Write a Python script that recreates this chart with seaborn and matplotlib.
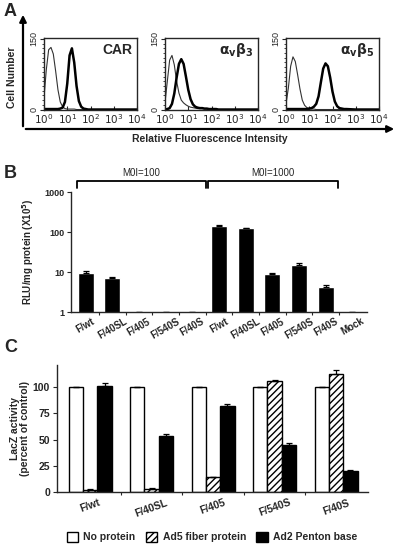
import numpy as np
import pandas as pd
import seaborn as sns
import matplotlib.pyplot as plt
import matplotlib.transforms as mtransforms
from matplotlib.patches import Patch, FancyArrowPatch
from matplotlib.ticker import MultipleLocator, FixedLocator, NullFormatter, LogLocator

sns.set_style("ticks")
plt.rcParams['font.family'] = ['Liberation Sans', 'DejaVu Sans']
plt.rcParams['hatch.linewidth'] = 1.0
plt.rcParams['mathtext.fontset'] = 'dejavusans'

# ---- panel A: flow cytometry histograms (log10 intensity vs cell number)
log_intensity = [0.0, 0.1, 0.2, 0.3, 0.4, 0.5, 0.6, 0.7, 0.8, 0.9,
                 1.0, 1.1, 1.2, 1.3, 1.4, 1.5, 1.6, 1.7, 1.8, 1.9,
                 2.0, 2.1, 2.2, 2.3, 2.4, 2.5, 2.6, 3.0, 4.0]
car_control = [25, 85, 127, 132, 118, 82, 42, 16, 6, 2,
               1, 1, 1, 1, 0, 0, 0, 0, 0, 0,
               0, 0, 0, 0, 0, 0, 0, 0, 0]
car_stain = [1, 1, 1, 1, 1, 1, 1, 2, 4, 16,
             55, 115, 130, 100, 50, 18, 6, 2, 1, 0,
             0, 0, 0, 0, 0, 0, 0, 0, 0]
avb3_control = [15, 60, 105, 115, 95, 60, 35, 20, 14, 10,
                7, 5, 4, 3, 2, 2, 2, 1, 1, 1,
                1, 1, 0, 0, 0, 0, 0, 0, 0]
avb3_stain = [0, 1, 3, 12, 34, 68, 97, 107, 97, 70,
              42, 22, 11, 6, 4, 3, 3, 2, 2, 1,
              1, 1, 1, 0, 0, 0, 0, 0, 0]
avb5_control = [12, 45, 92, 112, 102, 74, 44, 20, 9, 4,
                2, 1, 1, 0, 0, 0, 0, 0, 0, 0,
                0, 0, 0, 0, 0, 0, 0, 0, 0]
avb5_stain = [1, 1, 1, 1, 1, 1, 1, 1, 1, 1,
              2, 3, 6, 12, 28, 58, 87, 98, 92, 68,
              38, 17, 7, 3, 2, 1, 1, 0, 0]
receptors = ["CAR", r"$\mathbf{\alpha_{v}\beta_{3}}$", r"$\mathbf{\alpha_{v}\beta_{5}}$"]

# ---- panel B: luciferase expression
b_labels = ["F/wt", "F/40SL", "F/405", "F/540S", "F/40S",
            "F/wt", "F/40SL", "F/405", "F/540S", "F/40S", "Mock"]
b_values = [9.5, 7.2, 1.0, 1.02, 1.0, 145, 125, 8.8, 15, 4.2, 1.0]
b_errors = [0.8, 0.5, 0, 0, 0, 5, 4, 0.5, 2.0, 0.4, 0]

# ---- panel C: competition assay
c_viruses = ["F/wt", "F/40SL", "F/405", "F/540S", "F/40S"]
treatments = ["No protein", "Ad5 fiber protein", "Ad2 Penton base"]
no_protein = [100, 100, 100, 100, 100]
no_protein_err = [0.5, 0.5, 0.5, 0.5, 0.5]
ad5_fiber = [2, 3, 14, 106, 112]
ad5_fiber_err = [0.5, 1, 0.5, 1, 4]
ad2_penton = [101, 53, 82, 45, 20]
ad2_penton_err = [3, 2.5, 1.5, 2, 0.5]

W, H = 400, 548
fig = plt.figure(figsize=(W / 100, H / 100), dpi=100)


def px_axes(left, top, right, bottom):
    return fig.add_axes([left / W, 1 - bottom / H, (right - left) / W, (bottom - top) / H])


bold = dict(fontweight="bold")

# ---------------- A
pairs = [(car_control, car_stain), (avb3_control, avb3_stain), (avb5_control, avb5_stain)]
for i, (ctrl, stain) in enumerate(pairs):
    left = 44 + i * 121
    ax = px_axes(left, 38, left + 93, 110)
    xs = np.power(10.0, log_intensity)
    sns.lineplot(x=xs, y=ctrl, ax=ax, color="#333333", lw=0.8)
    sns.lineplot(x=xs, y=stain, ax=ax, color="black", lw=1.8)
    ax.set_xscale("log")
    ax.set_xlim(1, 1e4)
    ax.set_ylim(-1, 152)
    ax.set_yticks([0, 150])
    ax.set_yticklabels(["0", "150"], rotation=90, va="center", fontsize=6.5)
    ax.yaxis.set_minor_locator(MultipleLocator(10))
    ax.tick_params(axis="y", direction="out", length=3, width=0.8, pad=1)
    ax.tick_params(axis="y", which="minor", direction="out", length=1.8, width=0.6)
    ax.set_xticks([1, 10, 100, 1000, 10000])
    ax.set_xticklabels([r"$10^0$", r"$10^1$", r"$10^2$", r"$10^3$", r"$10^4$"], fontsize=7.5)
    ax.xaxis.set_minor_locator(LogLocator(base=10, subs=np.arange(2, 10)))
    ax.xaxis.set_minor_formatter(NullFormatter())
    ax.tick_params(axis="x", direction="in", length=3, width=0.8, pad=1.5)
    ax.tick_params(axis="x", which="minor", direction="in", length=1.8, width=0.6)
    for s in ax.spines.values():
        s.set_linewidth(1.0)
    ax.text(0.95, 0.83, receptors[i], transform=ax.transAxes, ha="right", va="center",
            fontsize=10, **bold)

fig.add_artist(FancyArrowPatch((23 / W, 1 - 129 / H), (23 / W, 1 - 12 / H),
                               transform=fig.transFigure, arrowstyle="-|>",
                               mutation_scale=10, lw=1.6, color="black"))
fig.add_artist(FancyArrowPatch((23 / W, 1 - 129 / H), (397 / W, 1 - 129 / H),
                               transform=fig.transFigure, arrowstyle="-|>",
                               mutation_scale=10, lw=1.6, color="black"))
fig.text(12 / W, 1 - 77 / H, "Cell Number", rotation=90, ha="center", va="center",
         fontsize=7.5, **bold)
fig.text(210 / W, 1 - 139 / H, "Relative Fluorescence Intensity", ha="center", va="center",
         fontsize=7.5, **bold)
fig.text(4 / W, 1 - 12 / H, "A", fontsize=13, va="center", **bold)

# ---------------- B
ax_b = px_axes(71, 192, 367, 312)
ax_b.set_yscale("log")
b_pos = list(range(len(b_values)))
sns.barplot(x=b_pos, y=b_values, color="black", saturation=1, width=0.6,
            errorbar=None, ax=ax_b)
ax_b.errorbar(b_pos, b_values, yerr=[np.zeros(len(b_errors)), b_errors], fmt="none",
              ecolor="black", elinewidth=0.9, capsize=2.2, capthick=0.9)
ax_b.set_ylim(1, 1000)
ax_b.set_xlim(-0.55, 10.55)
ax_b.set_yticks([1, 10, 100, 1000])
ax_b.set_yticklabels(["1", "10", "100", "1000"], fontsize=6.5, **bold)
ax_b.yaxis.set_minor_locator(FixedLocator([]))
ax_b.set_xticks(b_pos)
ax_b.set_xticklabels(b_labels, rotation=30, ha="center", fontsize=7, **bold)
ax_b.xaxis.set_minor_locator(FixedLocator([p + 0.5 for p in b_pos[:-1]]))
ax_b.tick_params(axis="x", which="major", length=0, pad=3)
ax_b.tick_params(axis="x", which="minor", length=2.5, width=0.8)
ax_b.tick_params(axis="y", length=3, width=0.8, pad=2)
sns.despine(ax=ax_b)
for s in ax_b.spines.values():
    s.set_linewidth(1.0)
ax_b.set_xlabel("")
ax_b.set_ylabel("")

trans = mtransforms.blended_transform_factory(ax_b.transData, ax_b.transAxes)
for x0, x1, label in [(-0.34, 4.52, "M0I=100"), (4.6, 9.47, "M0I=1000")]:
    ax_b.plot([x0, x0, x1, x1], [1.03, 1.09, 1.09, 1.03], transform=trans, color="black",
              lw=1.3, clip_on=False)
    ax_b.text((x0 + x1) / 2, 1.115, label, transform=trans, ha="center", va="bottom",
              fontsize=7)
fig.text(28 / W, 1 - 252 / H, r"RLU/mg protein (X10$^{\mathbf{5}}$)", rotation=90,
         ha="center", va="center", fontsize=7, **bold)
fig.text(4 / W, 1 - 173 / H, "B", fontsize=13, va="center", **bold)

# ---------------- C
ax_c = px_axes(57, 365, 368, 492)
c_df = pd.DataFrame({
    "virus": c_viruses * 3,
    "treatment": np.repeat(treatments, len(c_viruses)),
    "activity": no_protein + ad5_fiber + ad2_penton,
})
palette = {"No protein": "white", "Ad5 fiber protein": "white", "Ad2 Penton base": "black"}
sns.barplot(data=c_df, x="virus", y="activity", hue="treatment", hue_order=treatments,
            order=c_viruses, palette=palette, saturation=1, width=0.7, edgecolor="black",
            linewidth=1.0, errorbar=None, legend=False, ax=ax_c)
for p in ax_c.containers[1]:
    p.set_hatch("/////")
for cont, vals, errs in zip(ax_c.containers, [no_protein, ad5_fiber, ad2_penton],
                            [no_protein_err, ad5_fiber_err, ad2_penton_err]):
    xs = [p.get_x() + p.get_width() / 2 for p in cont]
    ax_c.errorbar(xs, vals, yerr=[np.zeros(len(errs)), errs], fmt="none", ecolor="black",
                  elinewidth=0.9, capsize=2.2, capthick=0.9)
ax_c.set_ylim(0, 121)
ax_c.set_xlim(-0.54, 4.52)
ax_c.set_yticks([0, 25, 50, 75, 100])
ax_c.set_yticklabels(["0", "25", "50", "75", "100"], fontsize=7.5, **bold)
ax_c.set_xticks(range(len(c_viruses)))
ax_c.set_xticklabels(c_viruses, rotation=20, ha="center", fontsize=7.5, **bold)
ax_c.xaxis.set_minor_locator(FixedLocator([0.5, 1.5, 2.5, 3.5]))
ax_c.tick_params(axis="x", which="major", length=0, pad=4)
ax_c.tick_params(axis="x", which="minor", length=2.5, width=0.8)
ax_c.tick_params(axis="y", length=3, width=0.8, pad=2)
sns.despine(ax=ax_c)
for s in ax_c.spines.values():
    s.set_linewidth(1.0)
ax_c.set_xlabel("")
ax_c.set_ylabel("")
fig.text(20 / W, 1 - 428 / H, "LacZ activity\n(percent of control)", rotation=90,
         ha="center", va="center", fontsize=7.5, linespacing=1.1, **bold)
fig.text(4 / W, 1 - 348 / H, "C", fontsize=13, va="center", **bold)

handles = [Patch(facecolor="white", edgecolor="black", lw=1.0),
           Patch(facecolor="white", edgecolor="black", hatch="/////", lw=1.0),
           Patch(facecolor="black", edgecolor="black", lw=1.0)]
fig.legend(handles, treatments, loc="center", bbox_to_anchor=(212 / W, 1 - 537 / H),
           ncol=3, frameon=False, prop=dict(size=7.5, weight="bold"),
           handlelength=1.1, handleheight=1.1, handletextpad=0.5, columnspacing=1.0)

fig.savefig("out.png", dpi=100)
